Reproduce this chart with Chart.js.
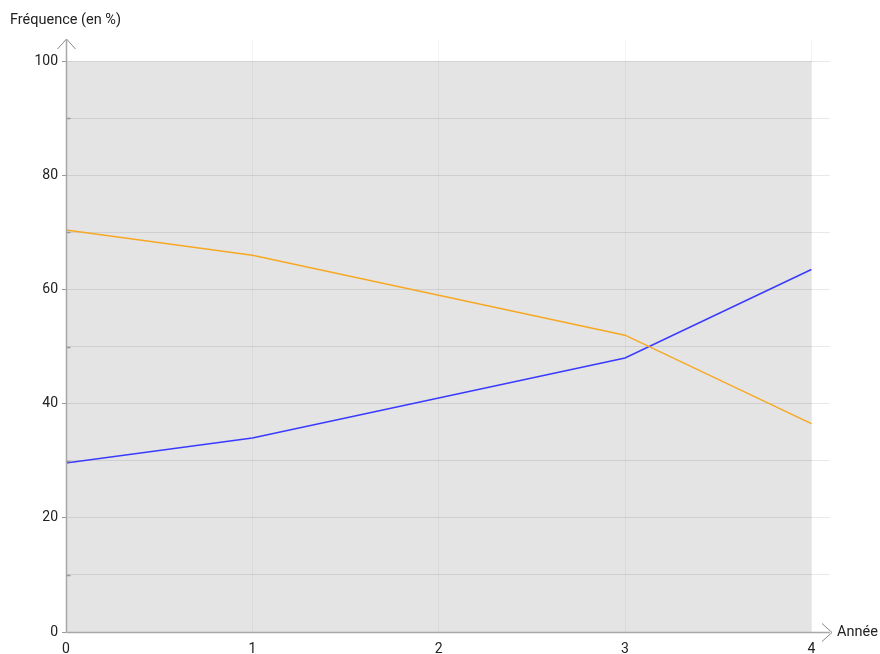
<!DOCTYPE html>
<html><head><meta charset="utf-8">
<script src="https://cdn.jsdelivr.net/npm/chart.js@4"></script>
<style>html,body{margin:0;padding:0;background:#fff}#wrap{width:880px;height:654px}</style>
</head><body><div id="wrap"><canvas id="c" width="880" height="654"></canvas></div>
<script>
const years = [0, 1, 2, 3, 4];
const serieOrange = [70.4, 66, 59, 52, 36.5];
const serieBleue = [29.6, 34, 41, 48, 63.5];
const yTicks = [0, 10, 20, 30, 40, 50, 60, 70, 80, 90, 100];
const xTicks = [0, 1, 2, 3, 4];
const yTitle = 'Fréquence (en %)';
const xTitle = 'Année';

const FONT = 'Roboto, "Liberation Sans", Arial, sans-serif';

const decor = {
  id: 'decor',
  beforeDraw(chart) {
    const {ctx, scales: {x, y}} = chart;
    ctx.save();
    ctx.fillStyle = '#e4e4e4';
    const l = x.getPixelForValue(0), r = x.getPixelForValue(4);
    const t = y.getPixelForValue(100), b = y.getPixelForValue(0);
    ctx.fillRect(l, t, r - l, b - t);
    ctx.restore();
  },
  afterDraw(chart) {
    const {ctx, chartArea: ca, scales: {x, y}} = chart;
    const x0 = Math.round(x.getPixelForValue(0)) + 0.5;
    const y0 = Math.round(y.getPixelForValue(0)) + 0.5;
    ctx.save();
    ctx.strokeStyle = '#a8a8a8';
    ctx.lineWidth = 1.5;
    ctx.beginPath();
    ctx.moveTo(x0, y0); ctx.lineTo(ca.right, y0);
    ctx.moveTo(x0, y0); ctx.lineTo(x0, ca.top);
    ctx.stroke();
    ctx.strokeStyle = '#999';
    ctx.lineWidth = 1.5;
    ctx.beginPath();
    yTicks.forEach(v => {
      if (v % 20 !== 0) {
        const py = Math.round(y.getPixelForValue(v)) + 0.5;
        ctx.moveTo(x0, py); ctx.lineTo(x0 + 4, py);
      }
    });
    ctx.stroke();
    ctx.lineWidth = 1;
    ctx.strokeStyle = '#888';
    ctx.beginPath();
    ctx.moveTo(ca.right - 8, y0 - 9); ctx.lineTo(ca.right + 2, y0); ctx.lineTo(ca.right - 8, y0 + 9);
    ctx.moveTo(x0 - 9, ca.top + 9); ctx.lineTo(x0, ca.top - 1); ctx.lineTo(x0 + 9, ca.top + 9);
    ctx.stroke();
    ctx.fillStyle = '#222';
    ctx.font = '14.5px ' + FONT;
    ctx.textBaseline = 'middle';
    ctx.textAlign = 'left';
    ctx.fillText(yTitle, 10, 20);
    ctx.fillText(xTitle, ca.right + 7, y0);
    ctx.restore();
  }
};

new Chart(document.getElementById('c'), {
  type: 'line',
  data: {
    datasets: [
      {label: 'A', data: years.map((v, i) => ({x: v, y: serieOrange[i]})), borderColor: '#f7a823', borderWidth: 1.5, pointRadius: 0, tension: 0, fill: false},
      {label: 'B', data: years.map((v, i) => ({x: v, y: serieBleue[i]})), borderColor: '#3a3aff', borderWidth: 1.5, pointRadius: 0, tension: 0, fill: false}
    ]
  },
  options: {
    responsive: false,
    animation: false,
    layout: {padding: {top: 40, right: 50, left: 0, bottom: 0}},
    plugins: {legend: {display: false}, tooltip: {enabled: false}, title: {display: false}},
    scales: {
      x: {
        type: 'linear', min: 0, max: 4.1,
        afterBuildTicks(s) { s.ticks = xTicks.map(v => ({value: v})); },
        afterFit(s) { s.height = 22; },
        grid: {color: 'rgba(0,0,0,0.045)', drawTicks: false, lineWidth: 1},
        border: {display: false},
        ticks: {font: {family: FONT, size: 14}, color: '#222', padding: 9, maxRotation: 0}
      },
      y: {
        type: 'linear', min: 0, max: 103.7,
        afterBuildTicks(s) { s.ticks = yTicks.map(v => ({value: v})); },
        afterFit(s) { s.width = 66; },
        grid: {color: 'rgba(0,0,0,0.09)', tickLength: 4,
          tickColor: ctx => (ctx.tick && ctx.tick.value % 20 === 0 ? '#999' : 'rgba(0,0,0,0)'), lineWidth: 1},
        border: {display: false},
        ticks: {font: {family: FONT, size: 14}, color: '#222', padding: 4, autoSkip: false,
          callback: v => (v % 20 === 0 ? String(v) : '')}
      }
    }
  },
  plugins: [decor]
});
</script>
</body></html>
